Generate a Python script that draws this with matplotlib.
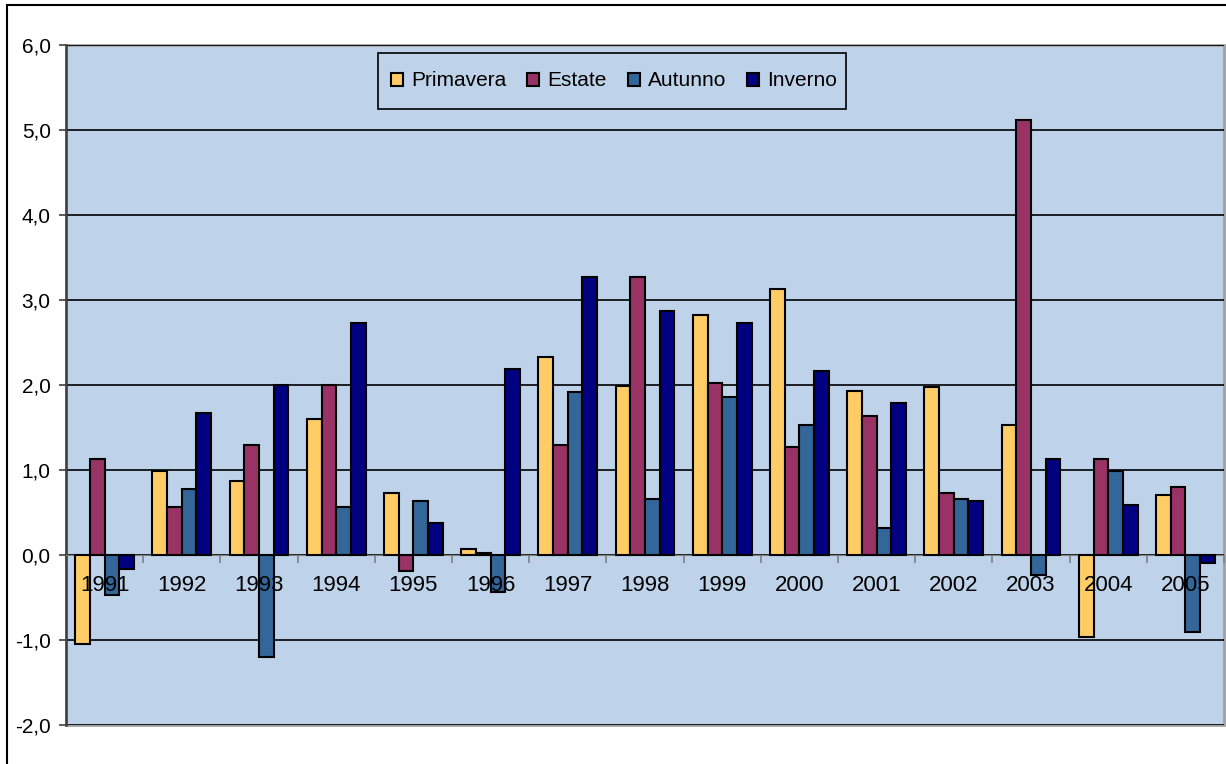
import numpy as np
import matplotlib
matplotlib.use("Agg")
import matplotlib.pyplot as plt
from matplotlib.patches import Rectangle
from matplotlib.ticker import FuncFormatter

years = ["1991", "1992", "1993", "1994", "1995", "1996", "1997", "1998",
         "1999", "2000", "2001", "2002", "2003", "2004", "2005"]
primavera = [-1.05, 0.99, 0.87, 1.60, 0.73, 0.07, 2.33, 1.99, 2.82, 3.13, 1.93, 1.98, 1.53, -0.97, 0.71]
estate = [1.13, 0.56, 1.29, 2.00, -0.19, 0.02, 1.29, 3.27, 2.02, 1.27, 1.63, 0.73, 5.12, 1.13, 0.80]
autunno = [-0.47, 0.78, -1.20, 0.56, 0.64, -0.43, 1.92, 0.66, 1.86, 1.53, 0.32, 0.66, -0.23, 0.99, -0.90]
inverno = [-0.16, 1.67, 2.00, 2.73, 0.38, 2.19, 3.27, 2.87, 2.73, 2.16, 1.79, 0.64, 1.13, 0.59, -0.09]

series = [("Primavera", primavera, "#FFCC66"),
          ("Estate", estate, "#993366"),
          ("Autunno", autunno, "#336699"),
          ("Inverno", inverno, "#000080")]

plt.rcParams["font.family"] = ["Liberation Sans", "DejaVu Sans"]

fig = plt.figure(figsize=(12.26, 7.64), dpi=100)
ax = fig.add_axes([66 / 1226, 1 - 725 / 764, 1158 / 1226, 680 / 764])
bg = "#BED3E9"
ax.set_facecolor(bg)

x = np.arange(len(years))
w = 0.19
for k, (name, vals, col) in enumerate(series):
    ax.bar(x + (k - 1.5) * w, vals, w, color=col, edgecolor="black",
           linewidth=1.5, label=name, zorder=3)

ax.set_xlim(-0.5, len(years) - 0.5)
ax.set_ylim(-2, 6)
ax.set_yticks(np.arange(-2, 7, 1))
ax.yaxis.set_major_formatter(FuncFormatter(lambda v, p: f"{v:.1f}".replace(".", ",")))
ax.yaxis.grid(True, color="black", linewidth=1.2, zorder=1)
ax.set_axisbelow(True)
ax.tick_params(axis="y", labelsize=15, length=5, width=1.2, color="#404040", pad=6)

# category axis crosses at zero
ax.spines["bottom"].set_position(("data", 0))
ax.spines["bottom"].set_color("#808080")
ax.set_xticks(np.arange(len(years) + 1) - 0.5)
ax.set_xticklabels([])
ax.tick_params(axis="x", direction="out", length=6, width=1.2, color="#808080")
for i, y in enumerate(years):
    ax.text(i, -0.36, y, ha="center", va="center", fontsize=16, zorder=5)

for s in ("top", "right"):
    ax.spines[s].set_visible(False)
ax.spines["left"].set_color("#404040")
ax.spines["left"].set_linewidth(1.8)
ax.add_patch(Rectangle((0, 0), 1, 1, transform=ax.transAxes, fill=False,
                       edgecolor="#A0A0A0", linewidth=2, zorder=0.5, clip_on=False))

# legend box drawn separately so its padding can differ per direction
ax.add_patch(Rectangle(((378 - 66) / 1158, (725 - 109) / 680), 468 / 1158, 56 / 680,
                       transform=ax.transAxes, facecolor=bg, edgecolor="black",
                       linewidth=1.2, zorder=6))
leg = ax.legend(loc="center", bbox_to_anchor=((614 - 66) / 1158, (725 - 81) / 680),
                ncol=4, fontsize=15, frameon=False,
                handlelength=0.58, handleheight=0.58, handletextpad=0.38,
                columnspacing=1.0, borderpad=0, borderaxespad=0)
leg.set_zorder(7)
for h in leg.legend_handles:
    h.set_linewidth(1.5)

# chart area frame
fig.patches.append(Rectangle((7 / 1226, -0.05), 1.2, 0.05 + 1 - 5 / 764,
                             transform=fig.transFigure, fill=False,
                             edgecolor="black", linewidth=1.5))

fig.savefig("out.png", dpi=100, facecolor="white")
